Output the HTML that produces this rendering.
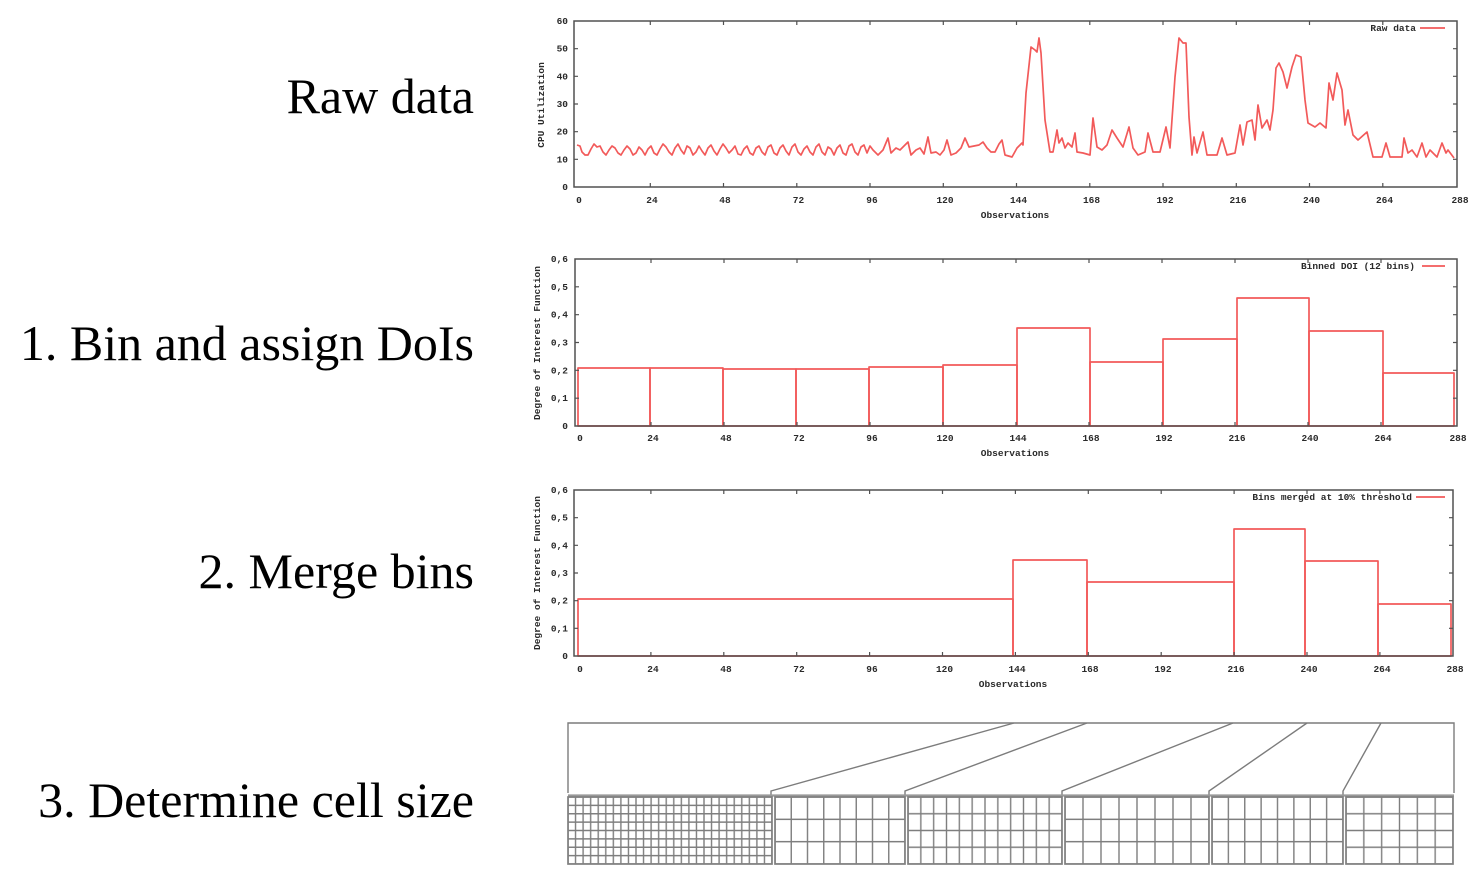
<!DOCTYPE html>
<html>
<head>
<meta charset="utf-8">
<style>
html,body{margin:0;padding:0;background:#fff;}
svg{display:block;}
.big{font-family:"Liberation Serif",serif;font-size:50px;fill:#000;}
.t{font-family:"Liberation Mono",monospace;font-size:9.5px;font-weight:bold;fill:#2a2a2a;}
.frame{fill:none;stroke:#505050;stroke-width:1.5;}
.tick{fill:none;stroke:#505050;stroke-width:1.2;}
.red{fill:none;stroke:#f25a5a;stroke-width:1.7;stroke-linejoin:round;}
.gl{fill:none;stroke:#7e7e7e;stroke-width:1.4;}
.gb{stroke:#808080;stroke-width:1.7;}
.br{fill:none;stroke:#7c7c7c;stroke-width:1.4;}
</style>
</head>
<body>
<svg width="1472" height="884" viewBox="0 0 1472 884" xmlns="http://www.w3.org/2000/svg">
<defs>
<pattern id="p1" patternUnits="userSpaceOnUse" x="564.222" y="792.8125" width="7.5556" height="8.375"><path class="gl" d="M3.778 0V8.375M0 4.1875H7.5556"/></pattern>
<pattern id="p2" patternUnits="userSpaceOnUse" x="766.875" y="785.833" width="16.25" height="22.333"><path class="gl" d="M8.125 0V22.333M0 11.1667H16.25"/></pattern>
<pattern id="p3" patternUnits="userSpaceOnUse" x="901.583" y="788.625" width="12.833" height="16.75"><path class="gl" d="M6.4167 0V16.75M0 8.375H12.833"/></pattern>
<pattern id="p4" patternUnits="userSpaceOnUse" x="1056" y="785.833" width="18" height="22.333"><path class="gl" d="M9 0V22.333M0 11.1667H18"/></pattern>
<pattern id="p5" patternUnits="userSpaceOnUse" x="1203.8125" y="785.833" width="16.375" height="22.333"><path class="gl" d="M8.1875 0V22.333M0 11.1667H16.375"/></pattern>
<pattern id="p6" patternUnits="userSpaceOnUse" x="1337.083" y="788.625" width="17.833" height="16.75"><path class="gl" d="M8.9167 0V16.75M0 8.375H17.833"/></pattern>
</defs>
<rect width="1472" height="884" fill="#fff"/>

<!-- Left labels -->
<text class="big" x="474" y="113" text-anchor="end">Raw data</text>
<text class="big" x="474" y="360" text-anchor="end">1. Bin and assign DoIs</text>
<text class="big" x="474" y="588" text-anchor="end">2. Merge bins</text>
<text class="big" x="474" y="817" text-anchor="end">3. Determine cell size</text>

<!-- ================= Chart 1: Raw data ================= -->
<polyline class="red" points="577,145 580,146 582,152 585,155 588,155 591,149 594,144 597,147 600,146 603,152 606,155 609,150 612,146 615,148 618,153 621,155 624,150 627,146 630,149 633,155 636,153 639,147 642,150 645,155 648,149 651,146 654,153 657,155 660,149 663,144 666,147 669,152 672,155 675,148 678,144 681,150 684,154 687,146 690,148 693,155 696,152 699,146 702,151 705,155 708,148 711,145 714,151 717,155 720,149 723,144 726,148 729,153 732,150 735,146 738,154 741,155 744,149 747,146 750,153 753,155 756,148 759,146 762,152 765,155 768,147 771,145 774,153 777,155 780,148 783,145 786,151 789,155 792,147 795,144 798,152 801,155 804,149 807,146 810,152 813,155 816,147 819,144 822,152 825,155 828,147 831,149 834,155 837,148 840,145 843,153 846,155 849,146 852,144 855,152 858,155 861,147 864,145 867,153 870,146 873,150 878,155 883,150 888,138 891,153 896,148 900,150 904,146 908,142 911,155 916,150 920,148 924,154 928,137 931,153 936,152 940,155 944,150 947,140 951,155 956,153 961,148 965,138 969,147 974,146 979,145 983,142 987,148 991,152 995,152 999,144 1002,140 1005,155 1012,157 1017,148 1022,143 1023,145 1026,93 1031,47 1035,50 1037,52 1039,38 1041,53 1045,120 1050,152 1053,152 1057,130 1059,143 1062,138 1065,148 1068,143 1072,147 1075,133 1077,152 1083,153 1090,155 1093,118 1097,147 1102,150 1107,145 1112,130 1117,138 1123,147 1129,127 1133,148 1138,155 1145,152 1148,133 1153,152 1160,152 1166,127 1170,148 1175,77 1179,38 1183,43 1186,43 1189,117 1192,155 1194,137 1197,153 1203,132 1207,155 1217,155 1222,138 1227,155 1235,153 1240,125 1243,145 1247,122 1252,120 1255,140 1258,105 1262,128 1267,120 1270,130 1273,110 1276,68 1279,63 1283,72 1287,88 1292,67 1296,55 1301,57 1305,100 1308,123 1315,127 1320,123 1326,128 1329,83 1333,100 1337,73 1342,90 1345,125 1348,110 1353,135 1358,140 1367,132 1373,157 1382,157 1386,143 1390,157 1402,157 1404,138 1408,153 1412,150 1417,157 1422,143 1426,157 1430,150 1437,157 1442,143 1446,153 1448,150 1454,158"/>
<rect class="frame" x="574" y="21" width="883" height="166"/>
<path class="tick" d="M650.3 187v-4M723.5 187v-4M796.8 187v-4M870 187v-4M943.3 187v-4M1016.5 187v-4M1089.8 187v-4M1163 187v-4M1236.3 187v-4M1309.5 187v-4M1382.8 187v-4
M650.3 21v4M723.5 21v4M796.8 21v4M870 21v4M943.3 21v4M1016.5 21v4M1089.8 21v4M1163 21v4M1236.3 21v4M1309.5 21v4M1382.8 21v4
M574 159.3h4M574 131.7h4M574 104h4M574 76.3h4M574 48.7h4
M1457 159.3h-4M1457 131.7h-4M1457 104h-4M1457 76.3h-4M1457 48.7h-4"/>
<g class="t" text-anchor="end">
<text x="568" y="190">0</text><text x="568" y="162.3">10</text><text x="568" y="134.7">20</text><text x="568" y="107">30</text><text x="568" y="79.3">40</text><text x="568" y="51.7">50</text><text x="568" y="24">60</text>
</g>
<g class="t" text-anchor="middle">
<text x="579" y="203">0</text><text x="652" y="203">24</text><text x="725" y="203">48</text><text x="798.5" y="203">72</text><text x="872" y="203">96</text><text x="945" y="203">120</text><text x="1018.5" y="203">144</text><text x="1091.5" y="203">168</text><text x="1165" y="203">192</text><text x="1238" y="203">216</text><text x="1311.5" y="203">240</text><text x="1384.5" y="203">264</text><text x="1460" y="203">288</text>
<text x="1015" y="218">Observations</text>
<text transform="translate(544,105) rotate(-90)">CPU Utilization</text>
</g>
<text class="t" x="1416" y="31" text-anchor="end">Raw data</text>
<line class="red" x1="1420" y1="28" x2="1445" y2="28"/>

<!-- ================= Chart 2: Binned DOI ================= -->
<g class="red">
<rect x="578" y="368" width="72" height="58"/>
<rect x="650" y="368" width="73" height="58"/>
<rect x="723" y="369" width="73" height="57"/>
<rect x="796" y="369" width="73" height="57"/>
<rect x="869" y="367" width="74" height="59"/>
<rect x="943" y="365" width="74" height="61"/>
<rect x="1017" y="328" width="73" height="98"/>
<rect x="1090" y="362" width="73" height="64"/>
<rect x="1163" y="339" width="74" height="87"/>
<rect x="1237" y="298" width="72" height="128"/>
<rect x="1309" y="331" width="74" height="95"/>
<rect x="1383" y="373" width="71" height="53"/>
</g>
<rect class="frame" x="575" y="259" width="882" height="167"/>
<path class="tick" d="M651 426v-4M724 426v-4M797 426v-4M870 426v-4M943 426v-4M1016 426v-4M1089 426v-4M1162 426v-4M1235 426v-4M1308 426v-4M1381 426v-4
M651 259v4M724 259v4M797 259v4M870 259v4M943 259v4M1016 259v4M1089 259v4M1162 259v4M1235 259v4M1308 259v4M1381 259v4
M575 398.2h4M575 370.3h4M575 342.5h4M575 314.7h4M575 286.8h4
M1457 398.2h-4M1457 370.3h-4M1457 342.5h-4M1457 314.7h-4M1457 286.8h-4"/>
<g class="t" text-anchor="end">
<text x="568" y="429">0</text><text x="568" y="401.2">0,1</text><text x="568" y="373.3">0,2</text><text x="568" y="345.5">0,3</text><text x="568" y="317.7">0,4</text><text x="568" y="289.8">0,5</text><text x="568" y="262">0,6</text>
</g>
<g class="t" text-anchor="middle">
<text x="580" y="441">0</text><text x="653" y="441">24</text><text x="726" y="441">48</text><text x="799" y="441">72</text><text x="872" y="441">96</text><text x="945" y="441">120</text><text x="1018" y="441">144</text><text x="1091" y="441">168</text><text x="1164" y="441">192</text><text x="1237" y="441">216</text><text x="1310" y="441">240</text><text x="1383" y="441">264</text><text x="1458" y="441">288</text>
<text x="1015" y="456">Observations</text>
<text transform="translate(540,343) rotate(-90)">Degree of Interest Function</text>
</g>
<text class="t" x="1415" y="269" text-anchor="end">Binned DOI (12 bins)</text>
<line class="red" x1="1422" y1="266" x2="1445" y2="266"/>

<!-- ================= Chart 3: Merged bins ================= -->
<g class="red">
<rect x="578" y="599" width="435" height="57"/>
<rect x="1013" y="560" width="74" height="96"/>
<rect x="1087" y="582" width="147" height="74"/>
<rect x="1234" y="529" width="71" height="127"/>
<rect x="1305" y="561" width="73" height="95"/>
<rect x="1378" y="604" width="73" height="52"/>
</g>
<rect class="frame" x="574" y="490" width="879" height="166"/>
<path class="tick" d="M650.9 656v-4M723.8 656v-4M796.7 656v-4M869.6 656v-4M942.5 656v-4M1015.4 656v-4M1088.3 656v-4M1161.2 656v-4M1234.1 656v-4M1307 656v-4M1379.9 656v-4
M650.9 490v4M723.8 490v4M796.7 490v4M869.6 490v4M942.5 490v4M1015.4 490v4M1088.3 490v4M1161.2 490v4M1234.1 490v4M1307 490v4M1379.9 490v4
M574 628.3h4M574 600.7h4M574 573h4M574 545.3h4M574 517.7h4
M1453 628.3h-4M1453 600.7h-4M1453 573h-4M1453 545.3h-4M1453 517.7h-4"/>
<g class="t" text-anchor="end">
<text x="568" y="659">0</text><text x="568" y="631.3">0,1</text><text x="568" y="603.7">0,2</text><text x="568" y="576">0,3</text><text x="568" y="548.3">0,4</text><text x="568" y="520.7">0,5</text><text x="568" y="493">0,6</text>
</g>
<g class="t" text-anchor="middle">
<text x="580" y="672">0</text><text x="653" y="672">24</text><text x="726" y="672">48</text><text x="799" y="672">72</text><text x="872" y="672">96</text><text x="944.5" y="672">120</text><text x="1017" y="672">144</text><text x="1090" y="672">168</text><text x="1163" y="672">192</text><text x="1236" y="672">216</text><text x="1309" y="672">240</text><text x="1382" y="672">264</text><text x="1455" y="672">288</text>
<text x="1013" y="687">Observations</text>
<text transform="translate(540,573) rotate(-90)">Degree of Interest Function</text>
</g>
<text class="t" x="1412" y="500" text-anchor="end">Bins merged at 10% threshold</text>
<line class="red" x1="1416" y1="497" x2="1445" y2="497"/>

<!-- ================= Cell size diagram ================= -->
<path class="br" d="M568 793V723H1454V793"/>
<path class="br" d="M1014 723L771 791V795M1087 723L905 791V795M1233 723L1062 791V795M1307 723L1209 791V795M1381 723L1343 791V795"/>
<line x1="568" y1="795.5" x2="1454" y2="795.5" stroke="#999" stroke-width="2.2"/>

<rect class="gb" x="568" y="797" width="204" height="67" fill="url(#p1)"/>
<rect class="gb" x="775" y="797" width="130" height="67" fill="url(#p2)"/>
<rect class="gb" x="908" y="797" width="154" height="67" fill="url(#p3)"/>
<rect class="gb" x="1065" y="797" width="144" height="67" fill="url(#p4)"/>
<rect class="gb" x="1212" y="797" width="131" height="67" fill="url(#p5)"/>
<rect class="gb" x="1346" y="797" width="107" height="67" fill="url(#p6)"/>
</svg>
</body>
</html>
